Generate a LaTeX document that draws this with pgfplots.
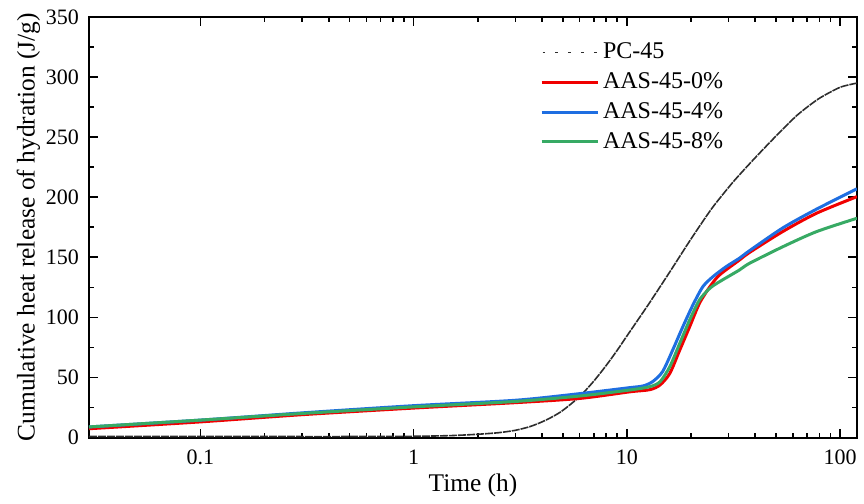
\documentclass[border=0pt]{standalone}
\usepackage{fontspec}
\setmainfont{Liberation Serif}
\usepackage{pgfplots}
\pgfplotsset{compat=1.18}
\definecolor{cred}{RGB}{240,0,0}
\definecolor{cblue}{RGB}{30,110,225}
\definecolor{cgreen}{RGB}{55,170,100}
\definecolor{cgray}{RGB}{45,45,45}
\begin{document}
\begin{tikzpicture}
\begin{axis}[
  name=ax,
  scale only axis,
  width=384pt, height=210.25pt,
  xmode=log,
  xmin=0.03, xmax=120,
  ymin=0, ymax=350,
  xtick={0.1,1,10,100},
  xticklabels={0.1,1,10,100},
  ytick={0,50,...,350},
  minor y tick num=1,
  tick align=inside,
  tick pos=both,
  major tick length=4.5pt,
  minor tick length=2.4pt,
  every major tick/.append style={line width=0.8pt, black},
  every minor tick/.append style={line width=0.8pt, black},
  axis line style={line width=1pt},
  /pgf/number format/assume math mode=true,
  tick label style={font=\rmfamily\fontsize{11}{13}\selectfont},
  xticklabel style={yshift=-2.5pt},
  yticklabel style={xshift=-1.5pt},
  label style={font=\rmfamily\fontsize{12.7}{15}\selectfont},
  xlabel={Time (h)},
  ylabel={Cumulative heat release of hydration (J/g)},
  xlabel style={yshift=2pt},
  ylabel style={yshift=-4pt},
  legend style={draw=none, fill=none, at={(0.579,0.958)}, anchor=north west,
    font=\rmfamily\fontsize{12}{14}\selectfont, row sep=1.4pt},
  legend cell align=left,
  legend image code/.code={\draw[#1] (0pt,0pt) -- (28pt,0pt);},
]
\addplot[cgray, line width=0.8pt, dash pattern=on 4pt off 0.5pt, smooth, tension=0.4,
  legend image code/.code={\draw[cgray, line width=0.9pt, dash pattern=on 1.4pt off 5pt] (0.5pt,0pt) -- (28pt,0pt);}]
 coordinates {
 (0.03,0.8) (0.05,0.8) (0.1,0.8) (0.2,0.8) (0.5,0.8) (1,1) (1.5,1.6) (2,2.7)
 (2.5,4) (3,6) (3.5,9) (4,13) (4.5,17.5) (5,22.5) (6,34) (7,47) (8,60) (9,72.5)
 (10,84.5) (12.59,110.5) (15.85,137.5) (19.95,165) (25.1,191) (31.6,213)
 (39.8,232.5) (50.1,251) (63.1,268.5) (79.4,282) (100,291.5) (120,295)
 };
\addlegendentry{PC-45}
\addplot[cred, line width=1.5pt, smooth, tension=0.45] coordinates {
 (0.03,7.3) (0.1,13) (0.3,19) (1,24.5) (3,29) (6,32.5) (10.3,38) (12.8,39.8)
 (14.3,43.7) (15.9,53.4) (17.7,72.8) (19.7,92.2) (21.9,111.7) (24.5,125.5)
 (27.2,135.3) (33.7,147.7) (37.6,154) (53.9,171.5) (77.4,186.6) (120,200.5)
 };
\addlegendentry{AAS-45-0\%}
\addplot[cblue, line width=1.5pt, smooth, tension=0.45] coordinates {
 (0.03,8.8) (0.1,14.5) (0.3,20.5) (1,26.5) (3,31) (6,36.5) (10.3,41.5)
 (11.9,42.9) (13.2,46.5) (14.7,54.8) (16.4,72.8) (18.3,92.2) (20.4,110.3)
 (22.7,125.5) (25.3,133.8) (29.2,142.2) (33.7,149.2) (37.6,155.5)
 (53.9,174.5) (77.4,190) (120,207)
 };
\addlegendentry{AAS-45-4\%}
\addplot[cgreen, line width=1.5pt, smooth, tension=0.45] coordinates {
 (0.03,8.8) (0.1,14.5) (0.3,20) (1,25.5) (3,30) (6,34.5) (10.3,39.5)
 (12.8,42.3) (14.3,46.4) (15.9,59) (17.7,78.4) (19.7,97.8) (21.9,114.5)
 (24.5,124.2) (27.2,129.7) (33.7,139.4) (37.6,145) (53.9,158.8)
 (77.4,171.3) (120,182.5)
 };
\addlegendentry{AAS-45-8\%}
\end{axis}
\path ([xshift=-44.5pt,yshift=-30.75pt]ax.south west) rectangle +(432pt,249.5pt);
\end{tikzpicture}
\end{document}
